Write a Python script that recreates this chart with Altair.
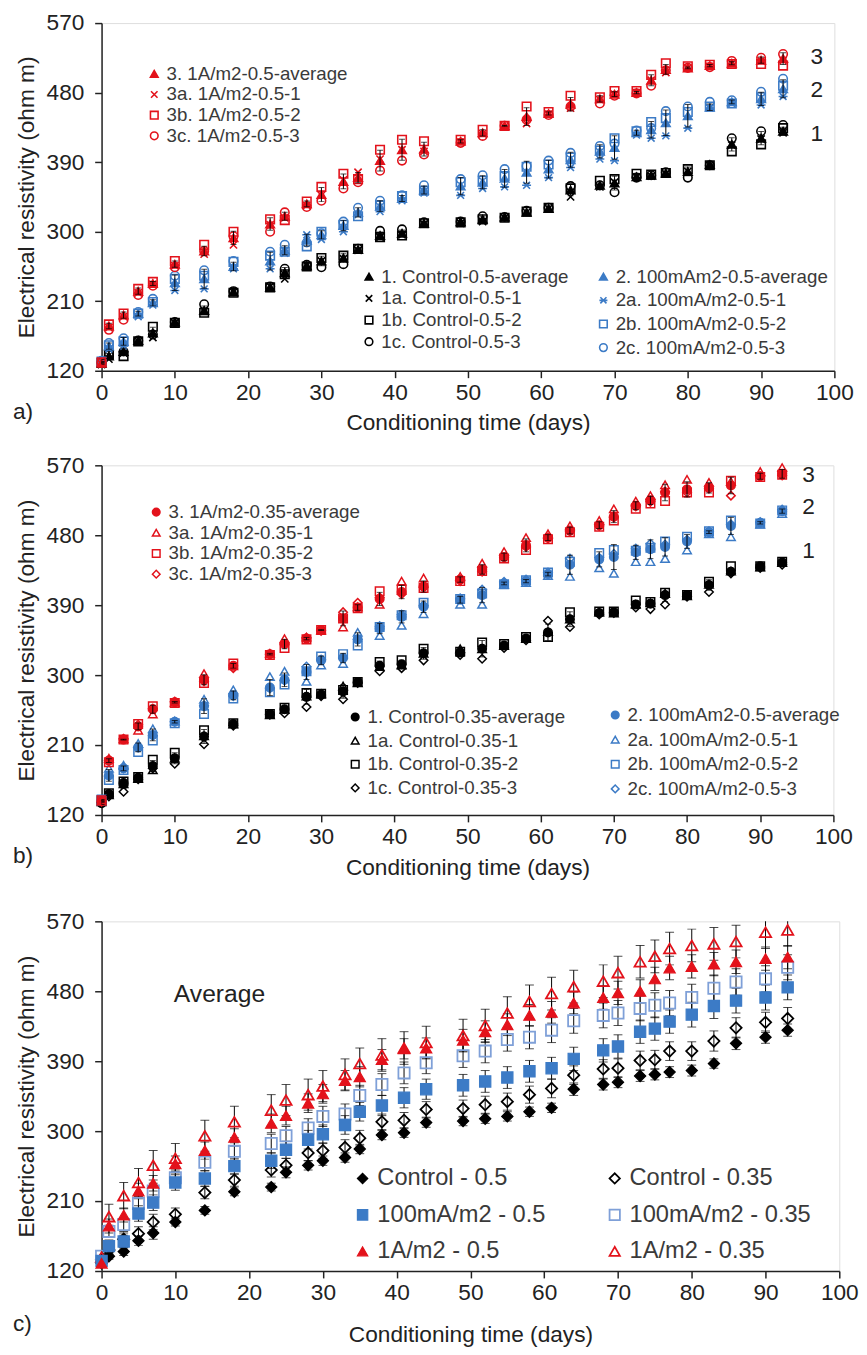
import altair as alt
import pandas as pd
import numpy as np

days = [0, 1, 3, 5, 7, 10, 14, 18, 23, 25, 28, 30, 33, 35, 38, 41, 44, 49, 52, 55,
        58, 61, 64, 68, 70, 73, 75, 77, 80, 83, 86, 90, 93]

# ---- w/c 0.5 ----
ctrl_05 = [130, 139, 145, 159, 169, 183, 198, 222, 228, 247, 256, 262, 266, 277, 295,
           298, 311, 313, 316, 319, 325, 330, 354, 360, 363, 371, 373, 376, 378, 387, 413, 421, 430]
ctrl_05_1 = [128, 135, 143, 158, 163, 182, 197, 222, 229, 239, 256, 262, 265, 276, 293,
             296, 310, 311, 313, 318, 325, 330, 345, 358, 364, 371, 372, 375, 378, 386, 412, 420, 428]
ctrl_05_2 = [130, 141, 139, 158, 177, 182, 195, 221, 228, 245, 255, 266, 269, 278, 293,
             295, 311, 312, 316, 318, 326, 331, 356, 366, 368, 375, 374, 376, 381, 386, 404, 413, 434]
ctrl_05_3 = [131, 140, 145, 159, 167, 183, 206, 223, 229, 252, 257, 254, 258, 278, 301,
             303, 312, 313, 320, 319, 327, 331, 359, 360, 351, 370, 373, 377, 370, 386, 421, 430, 438]

ma_05 = [133, 152, 158, 194, 208, 234, 239, 255, 262, 276, 289, 296, 308, 325, 333,
         343, 354, 359, 364, 369, 377, 381, 393, 404, 409, 428, 432, 441, 450, 461, 468, 472, 485]
ma_05_1 = [130, 148, 152, 190, 205, 224, 226, 252, 252, 272, 296, 290, 300, 322, 326,
           340, 350, 347, 356, 358, 360, 370, 383, 394, 392, 425, 421, 424, 434, 460, 466, 464, 475]
ma_05_2 = [132, 153, 158, 194, 209, 239, 243, 261, 269, 274, 281, 300, 309, 320, 334,
           346, 353, 364, 366, 372, 384, 387, 396, 405, 421, 430, 442, 447, 455, 462, 466, 474, 489]
ma_05_3 = [133, 156, 162, 196, 213, 243, 250, 262, 274, 283, 286, 298, 313, 331, 340,
           347, 360, 368, 373, 381, 385, 392, 402, 411, 414, 431, 434, 456, 462, 468, 470, 481, 498]

a1_05 = [130, 178, 192, 223, 233, 258, 275, 292, 310, 320, 336, 348, 365, 370, 392,
         406, 407, 417, 428, 437, 449, 453, 465, 472, 478, 480, 496, 510, 512, 515, 518, 522, 524]
a1_05_1 = [129, 176, 190, 221, 232, 256, 271, 283, 309, 318, 334, 347, 367, 377, 394,
           406, 404, 416, 427, 436, 440, 452, 460, 471, 478, 480, 496, 506, 512, 514, 518, 521, 521]
a1_05_2 = [131, 180, 194, 226, 235, 262, 283, 300, 316, 315, 339, 358, 375, 368, 406,
           419, 417, 419, 432, 437, 462, 455, 476, 474, 482, 482, 503, 518, 514, 516, 517, 517, 515]
a1_05_3 = [130, 173, 186, 218, 230, 254, 275, 294, 300, 325, 332, 340, 356, 364, 379,
           392, 400, 415, 424, 437, 445, 451, 462, 466, 476, 479, 489, 509, 512, 513, 521, 525, 530]

# ---- w/c 0.35 ----
ctrl_035 = [135, 147, 161, 168, 183, 193, 221, 237, 250, 256, 272, 275, 279, 291, 312,
            314, 328, 329, 334, 338, 347, 355, 372, 380, 381, 391, 392, 403, 403, 416, 433, 440, 445]
ctrl_035_1 = [137, 146, 160, 167, 178, 193, 222, 237, 249, 256, 273, 276, 286, 290, 311,
              313, 328, 334, 334, 338, 347, 356, 372, 381, 380, 391, 393, 405, 402, 417, 434, 439, 445]
ctrl_035_2 = [139, 148, 163, 169, 191, 200, 229, 238, 250, 258, 277, 276, 281, 291, 317,
              319, 334, 330, 342, 340, 349, 349, 381, 382, 382, 396, 394, 406, 403, 420, 440, 440, 446]
ctrl_035_3 = [136, 144, 150, 166, 180, 186, 211, 235, 249, 251, 259, 273, 269, 290, 305,
              309, 319, 326, 321, 335, 345, 370, 362, 378, 380, 387, 385, 391, 401, 407, 431, 438, 442]

ma_035 = [139, 171, 180, 207, 223, 240, 260, 274, 284, 294, 304, 319, 322, 346, 360,
          375, 388, 397, 403, 418, 421, 430, 442, 449, 452, 458, 462, 465, 472, 484, 492, 496, 511]
ma_035_1 = [138, 180, 184, 212, 231, 241, 269, 281, 298, 305, 292, 313, 315, 355, 351,
            364, 379, 391, 391, 417, 419, 428, 427, 438, 431, 446, 446, 450, 461, 482, 478, 494, 508]
ma_035_2 = [140, 165, 178, 201, 216, 238, 250, 270, 278, 288, 305, 324, 327, 338, 362,
            377, 393, 398, 405, 417, 422, 432, 446, 457, 461, 460, 464, 472, 478, 485, 499, 495, 512]
ma_035_3 = [139, 170, 180, 207, 222, 240, 261, 273, 283, 293, 311, 320, 322, 346, 363,
            378, 390, 399, 410, 420, 423, 432, 450, 451, 456, 463, 469, 468, 474, 485, 494, 497, 513]

a1_035 = [138, 190, 217, 234, 256, 265, 294, 312, 327, 340, 347, 358, 373, 387, 398,
          407, 414, 423, 436, 452, 467, 477, 486, 493, 504, 518, 525, 535, 539, 541, 544, 556, 559]
a1_035_1 = [138, 193, 218, 229, 250, 265, 302, 312, 328, 347, 349, 358, 362, 388, 391,
            421, 425, 427, 444, 459, 477, 482, 492, 499, 514, 524, 531, 545, 552, 548, 549, 562, 567]
a1_035_2 = [139, 188, 217, 237, 260, 264, 290, 315, 326, 335, 346, 358, 373, 386, 408,
            410, 412, 421, 434, 450, 461, 475, 484, 491, 499, 514, 521, 524, 535, 535, 550, 555, 558]
a1_035_3 = [137, 190, 218, 236, 257, 266, 292, 309, 327, 340, 348, 357, 381, 393, 400,
            404, 413, 421, 433, 451, 465, 476, 485, 492, 503, 517, 523, 536, 535, 540, 531, 556, 557]

# ---- error bars of panel c ----
err_ctrl05 = [3, 4, 5, 6, 8, 5, 5, 5, 5, 7, 6, 6, 6, 6, 6, 6, 6, 6, 6, 6, 6, 6, 8, 7, 7, 7, 7, 7, 7, 6, 8, 8, 8]
err_ctrl035 = [4, 6, 8, 9, 10, 8, 8, 8, 9, 9, 10, 10, 10, 10, 10, 10, 10, 11, 11, 11, 11, 12, 12, 12, 12, 12, 12, 12, 12, 13, 13, 13, 14]
err_ma05 = [4, 8, 8, 10, 10, 10, 10, 10, 10, 11, 12, 12, 12, 12, 13, 13, 13, 14, 14, 14, 14, 14, 15, 15, 15, 15, 15, 15, 16, 16, 16, 16, 16]
err_ma035 = [4, 8, 9, 10, 10, 10, 11, 11, 12, 12, 12, 13, 13, 13, 14, 14, 14, 15, 15, 15, 15, 16, 16, 16, 16, 16, 16, 16, 17, 17, 17, 17, 16]
err_a105 = [4, 9, 9, 10, 10, 10, 11, 11, 12, 12, 12, 12, 13, 13, 13, 13, 13, 14, 14, 14, 14, 14, 14, 15, 15, 15, 15, 15, 15, 15, 15, 15, 15]
err_a1035 = [5, 16, 17, 18, 19, 19, 20, 20, 20, 20, 20, 20, 20, 20, 21, 21, 21, 21, 21, 21, 21, 21, 21, 21, 21, 21, 21, 21, 21, 21, 21, 21, 21]

# ---- annotation labels ----
tags_a_day = [97.6, 97.6, 97.6]
tags_a_val = [526, 483, 426]
tags_b_day = [96.6, 96.6, 96.6]
tags_b_val = [558, 516, 459]
tags_txt = ["3", "2", "1"]

RED = "#E3121B"
BLUE = "#3C7BC6"
LBLUE = "#7FA0D8"
BLACK = "#000000"
INK = "#222222"
LEG = "#3a3a3a"
FONT = "Liberation Sans"
X_PATH = "M-0.85,-0.85L0.85,0.85M-0.85,0.85L0.85,-0.85"
STAR_PATH = "M-0.8,-0.8L0.8,0.8M-0.8,0.8L0.8,-0.8M-1.05,0L1.05,0"
TRANS = "transparent"


def long_df(names, arrays):
    rows = []
    for n, arr in zip(names, arrays):
        for d, v in zip(days, arr):
            rows.append({"day": d, "value": v, "series": n})
    return pd.DataFrame(rows)


def x_enc(title_pad):
    return alt.X("day:Q", scale=alt.Scale(domain=[0, 100], nice=False, zero=False),
                 axis=alt.Axis(title="Conditioning time (days)", values=list(range(0, 101, 10)),
                               grid=False, tickSize=7, tickWidth=1.5, tickColor=INK,
                               domainColor=INK, domainWidth=1.5, labelFont=FONT, labelFontSize=23,
                               labelColor=INK, labelPadding=4, labelFlush=False,
                               titleFont=FONT, titleFontSize=23, titleFontWeight="normal",
                               titleColor=INK, titlePadding=title_pad))


def y_enc(field):
    return alt.Y(f"{field}:Q", scale=alt.Scale(domain=[120, 570], nice=False, zero=False),
                 axis=alt.Axis(title="Electrical resistivity (ohm m)", values=list(range(120, 571, 90)),
                               grid=False, tickSize=7, tickWidth=1.5, tickColor=INK,
                               domainColor=INK, domainWidth=1.5, labelFont=FONT, labelFontSize=23,
                               labelColor=INK, labelPadding=11, labelFlush=False,
                               titleFont=FONT, titleFontSize=23, titleFontWeight="normal",
                               titleColor=INK, titlePadding=8))


def point_layer(df, names, shapes, fills, strokes, size, sw, lx, ly, lsize, rowpad, symsize, loff, xe):
    leg = alt.Legend(orient="none", legendX=lx, legendY=ly, title=None, labelFont=FONT,
                     labelFontSize=lsize, labelColor=LEG, symbolSize=symsize, symbolStrokeWidth=sw,
                     rowPadding=rowpad, labelOffset=loff, padding=0, labelLimit=500)
    sub = df[df["series"].isin(names)]
    return alt.Chart(sub).mark_point(size=size, strokeWidth=sw, opacity=1).encode(
        x=xe, y=y_enc("value"),
        shape=alt.Shape("series:N", scale=alt.Scale(domain=names, range=shapes), legend=leg),
        fill=alt.Fill("series:N", scale=alt.Scale(domain=names, range=fills), legend=leg),
        stroke=alt.Stroke("series:N", scale=alt.Scale(domain=names, range=strokes), legend=leg),
    )


def err_layers(edf, cap, xe, sw=1):
    rule = alt.Chart(edf).mark_rule(color=BLACK, strokeWidth=sw, clip=True).encode(
        x=xe, y=y_enc("lo"), y2="hi:Q")
    top = alt.Chart(edf).mark_tick(color=BLACK, orient="horizontal", size=cap, thickness=sw, clip=True).encode(
        x=xe, y=y_enc("hi"))
    bot = alt.Chart(edf).mark_tick(color=BLACK, orient="horizontal", size=cap, thickness=sw, clip=True).encode(
        x=xe, y=y_enc("lo"))
    return [rule, top, bot]


def err_from_reps(avgs, reps_list):
    rows = []
    for avg, reps in zip(avgs, reps_list):
        arr = np.array(reps, dtype=float)
        sd = arr.std(axis=0, ddof=1)
        for d, v, s in zip(days, avg, sd):
            rows.append({"day": d, "lo": v - s, "hi": v + s})
    return pd.DataFrame(rows)


def panel_tag(txt, dy):
    return alt.Chart(pd.DataFrame({"t": [txt]})).mark_text(
        align="left", baseline="middle", font=FONT, fontSize=23, color=INK).encode(
        x=alt.value(-90), y=alt.value(dy), text="t:N")


def num_tags(dlist, vlist, xe):
    df = pd.DataFrame({"day": dlist, "value": vlist, "t": tags_txt})
    return alt.Chart(df).mark_text(font=FONT, fontSize=23, color=INK, baseline="middle").encode(
        x=xe, y=y_enc("value"), text="t:N")


# ================= Panel a =================
WA, HA = 744, 353
xa = x_enc(8)
red_a = ["3. 1A/m2-0.5-average", "3a. 1A/m2-0.5-1", "3b. 1A/m2-0.5-2", "3c. 1A/m2-0.5-3"]
blk_a = ["1. Control-0.5-average", "1a. Control-0.5-1", "1b. Control-0.5-2", "1c. Control-0.5-3"]
blu_a = ["2. 100mAm2-0.5-average", "2a. 100mA/m2-0.5-1", "2b. 100mA/m2-0.5-2", "2c. 100mA/m2-0.5-3"]
df_a = pd.concat([
    long_df(red_a, [a1_05, a1_05_1, a1_05_2, a1_05_3]),
    long_df(blk_a, [ctrl_05, ctrl_05_1, ctrl_05_2, ctrl_05_3]),
    long_df(blu_a, [ma_05, ma_05_1, ma_05_2, ma_05_3]),
])
err_a = err_from_reps([ctrl_05, ma_05, a1_05],
                      [[ctrl_05_1, ctrl_05_2, ctrl_05_3], [ma_05_1, ma_05_2, ma_05_3],
                       [a1_05_1, a1_05_2, a1_05_3]])
sh_a = ["triangle-up", X_PATH, "square", "circle"]
lay_a = [
    point_layer(df_a, blk_a, sh_a, [BLACK, TRANS, TRANS, TRANS], [BLACK] * 4, 75, 1.6,
                262, 248, 19, 2, 60, 3, xa),
    point_layer(df_a, blu_a, ["triangle-up", STAR_PATH, "square", "circle"],
                [BLUE, TRANS, TRANS, TRANS], [BLUE] * 4, 75, 1.6, 500, 248, 19, 4, 60, 3, xa),
    point_layer(df_a, red_a, sh_a, [RED, TRANS, TRANS, TRANS], [RED] * 4, 75, 1.6,
                44, 42, 19, 1, 60, 3, xa),
] + err_layers(err_a, 6, xa) + [num_tags(tags_a_day, tags_a_val, xa), panel_tag("a)", HA + 42)]
pa = alt.layer(*lay_a).resolve_scale(shape="independent", fill="independent",
                                     stroke="independent").properties(width=WA, height=HA)

# ================= Panel b =================
WB, HB = 743, 355
xb = x_enc(8)
red_b = ["3. 1A/m2-0.35-average", "3a. 1A/m2-0.35-1", "3b. 1A/m2-0.35-2", "3c. 1A/m2-0.35-3"]
blk_b = ["1. Control-0.35-average", "1a. Control-0.35-1", "1b. Control-0.35-2", "1c. Control-0.35-3"]
blu_b = ["2. 100mAm2-0.5-average", "2a. 100mA/m2-0.5-1", "2b. 100mA/m2-0.5-2", "2c. 100mA/m2-0.5-3"]
df_b = pd.concat([
    long_df(red_b, [a1_035, a1_035_1, a1_035_2, a1_035_3]),
    long_df(blk_b, [ctrl_035, ctrl_035_1, ctrl_035_2, ctrl_035_3]),
    long_df(blu_b, [ma_035, ma_035_1, ma_035_2, ma_035_3]),
])
err_b = err_from_reps([ctrl_035, ma_035, a1_035],
                      [[ctrl_035_1, ctrl_035_2, ctrl_035_3], [ma_035_1, ma_035_2, ma_035_3],
                       [a1_035_1, a1_035_2, a1_035_3]])
sh_b = ["circle", "triangle-up", "square", "diamond"]
lay_b = [
    point_layer(df_b, blk_b, sh_b, [BLACK, TRANS, TRANS, TRANS], [BLACK] * 4, 75, 1.5,
                248, 246, 19, 4, 60, 3, xb),
    point_layer(df_b, blu_b, sh_b, [BLUE, TRANS, TRANS, TRANS], [BLUE] * 4, 75, 1.5,
                512, 244, 19, 5, 60, 3, xb),
    point_layer(df_b, red_b, sh_b, [RED, TRANS, TRANS, TRANS], [RED] * 4, 75, 1.5,
                46, 38, 19, 1, 60, 3, xb),
] + err_layers(err_b, 6, xb) + [num_tags(tags_b_day, tags_b_val, xb), panel_tag("b)", HB + 42)]
pb = alt.layer(*lay_b).resolve_scale(shape="independent", fill="independent",
                                     stroke="independent").properties(width=WB, height=HB)

# ================= Panel c =================
WC, HC = 749, 355
xc = x_enc(20)
left_c = ["Control - 0.5", "100mA/m2 - 0.5", "1A/m2 - 0.5"]
right_c = ["Control - 0.35", "100mA/m2 - 0.35", "1A/m2 - 0.35"]
df_c = pd.concat([
    long_df(left_c, [ctrl_05, ma_05, a1_05]),
    long_df(right_c, [ctrl_035, ma_035, a1_035]),
])
err_rows = []
for avg, er in [(ctrl_05, err_ctrl05), (ctrl_035, err_ctrl035), (ma_05, err_ma05),
                (ma_035, err_ma035), (a1_05, err_a105), (a1_035, err_a1035)]:
    for d, v, e in zip(days, avg, er):
        err_rows.append({"day": d, "lo": v - e, "hi": v + e})
err_c = pd.DataFrame(err_rows)
avg_txt = alt.Chart(pd.DataFrame({"day": [9.8], "value": [476], "t": ["Average"]})).mark_text(
    align="left", baseline="middle", font=FONT, fontSize=25, color=INK).encode(
    x=xc, y=y_enc("value"), text="t:N")
lay_c = err_layers(err_c, 9, xc) + [
    point_layer(df_c, right_c, ["diamond", "square", "triangle-up"], [TRANS] * 3,
                [BLACK, LBLUE, RED], 130, 1.8, 509, 249, 24, 13, 110, 3, xc),
    point_layer(df_c, left_c, ["diamond", "square", "triangle-up"], [BLACK, BLUE, RED],
                [BLACK, BLUE, RED], 130, 1.2, 253, 249, 24, 13, 110, 3, xc),
    avg_txt, panel_tag("c)", HC + 54),
]
pc = alt.layer(*lay_c).resolve_scale(shape="independent", fill="independent",
                                     stroke="independent").properties(
    width=WC, height=HC, title=alt.TitleParams(text=" ", fontSize=2, offset=10))

chart = alt.vconcat(pa, pb, pc, spacing=18).resolve_scale(
    x="independent", y="independent").properties(
    padding={"left": 4, "top": -7, "right": 0, "bottom": 0}).configure_view(
    stroke=INK, strokeWidth=1.5).configure(background="white")

chart.save("out.html", embed_options={"renderer": "svg", "actions": False})
